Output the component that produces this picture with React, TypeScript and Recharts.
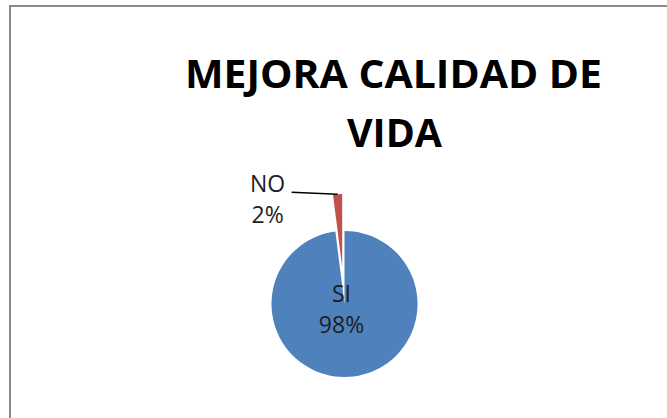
import React from "react";
import { PieChart, Pie, Cell } from "recharts";

const categories = ["SI", "NO"];
const values = [98, 2];
const titleLines = ["MEJORA CALIDAD DE", "VIDA"];

const data = categories.map((name, i) => ({ name, value: values[i] }));

const BLUE = "#4F81BD";
const RED = "#C0504D";
const CX = 344.5;
const CY = 304;
const R = 73;
const EXPLODE = 37;
const RAD = Math.PI / 180;
// mid angle of the exploded slice (Recharts convention: degrees, counter-clockwise from 3 o'clock)
const total = values.reduce((a, b) => a + b, 0);
const noMid = 90 + (values[1] / total) * 360 / 2;
const CX2 = CX + EXPLODE * Math.cos(noMid * RAD);
const CY2 = CY - EXPLODE * Math.sin(noMid * RAD);

const labelFont = { fontFamily: "'Open Sans', sans-serif", fontSize: 23, fill: "#1e1e1e" };

const renderInner = (p: any) => {
  if (p.index !== 0) return <g />;
  return (
    <g>
      <text x={p.cx - 3} y={p.cy - 2} textAnchor="middle" {...labelFont}>{p.name}</text>
      <text x={p.cx - 3} y={p.cy + 29} textAnchor="middle" {...labelFont}>{`${Math.round(p.percent * 100)}%`}</text>
    </g>
  );
};

const renderOuter = (p: any) => {
  if (p.index !== 1) return <g />;
  const ox = p.cx + p.outerRadius * Math.cos(p.midAngle * RAD);
  const oy = p.cy - p.outerRadius * Math.sin(p.midAngle * RAD);
  const ex = ox - 46;
  const ey = oy - 2;
  return (
    <g>
      <line x1={ox} y1={oy} x2={ex} y2={ey} stroke="#000" strokeWidth={1.5} />
      <text x={ex - 24} y={ey} textAnchor="middle" {...labelFont}>{p.name}</text>
      <text x={ex - 24} y={ey + 31} textAnchor="middle" {...labelFont}>{`${Math.round(p.percent * 100)}%`}</text>
    </g>
  );
};

export default function App() {
  return (
    <div style={{ position: "absolute", left: 0, top: 0, width: 667, height: 418, overflow: "hidden", background: "#fff" }}>
      <div style={{ position: "absolute", left: 9, top: 5, width: 700, height: 460, border: "2px solid #8a8a8a", boxSizing: "border-box" }} />
      <svg style={{ position: "absolute", left: 0, top: 0 }} width={667} height={418}>
        <text x={393.5} y={88} textAnchor="middle" fontFamily="'Open Sans', sans-serif" fontWeight="bold" fontSize={40} textLength={417} lengthAdjust="spacingAndGlyphs" fill="#000">{titleLines[0]}</text>
        <text x={394.5} y={147} textAnchor="middle" fontFamily="'Open Sans', sans-serif" fontWeight="bold" fontSize={40} textLength={95} lengthAdjust="spacingAndGlyphs" fill="#000">{titleLines[1]}</text>
      </svg>
      <div style={{ position: "absolute", left: 0, top: 0 }}>
        <PieChart width={667} height={418} margin={{ top: 0, right: 0, bottom: 0, left: 0 }}>
          <Pie data={data} dataKey="value" nameKey="name" cx={CX} cy={CY} outerRadius={R} startAngle={90} endAngle={-270} stroke="none" label={renderInner} labelLine={false} isAnimationActive={false}>
            <Cell fill={BLUE} />
            <Cell fill="transparent" />
          </Pie>
          <Pie data={data} dataKey="value" nameKey="name" cx={CX2} cy={CY2} outerRadius={R} startAngle={90} endAngle={-270} stroke="none" label={renderOuter} labelLine={false} isAnimationActive={false}>
            <Cell fill="transparent" />
            <Cell fill={RED} />
          </Pie>
        </PieChart>
      </div>
    </div>
  );
}
